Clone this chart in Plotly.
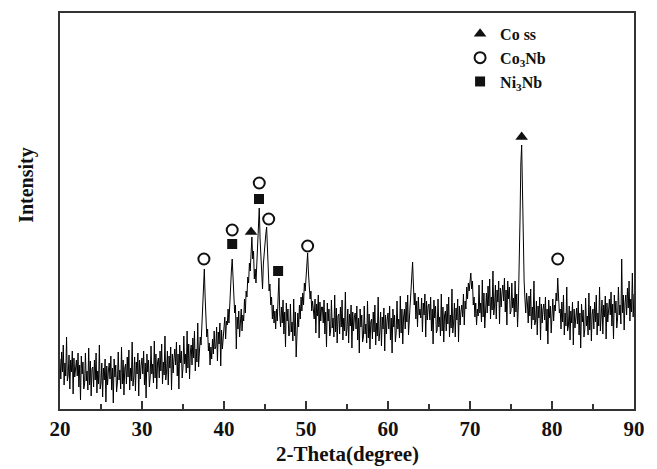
import numpy as np
import plotly.graph_objects as go

# XRD scan, 20-90 deg 2-theta, 0.1 deg step (intensity in arbitrary units)
two_theta_start = 20.0
two_theta_step = 0.1
intensity = [
    50, 30, 57, 37, 64, 24, 46, 33, 72, 28,        # 20
    34, 54, 20, 49, 37, 58, 15, 51, 32, 46,        # 21
    49, 33, 56, 22, 44, 9, 53, 35, 47, 20,         # 22
    25, 56, 28, 38, 19, 61, 24, 48, 13, 40,        # 23
    42, 22, 49, 29, 56, 16, 38, 25, 64, 20,        # 24
    26, 46, 12, 41, 29, 50, 7, 43, 24, 38,         # 25
    46, 30, 53, 19, 41, 6, 50, 32, 44, 17,         # 26
    26, 57, 29, 39, 20, 62, 25, 49, 14, 41,        # 27
    45, 25, 52, 32, 59, 19, 41, 28, 67, 23,        # 28
    32, 52, 18, 47, 35, 56, 13, 49, 30, 44,        # 29
    51, 35, 58, 24, 46, 11, 55, 37, 49, 22,        # 30
    32, 63, 35, 45, 26, 68, 31, 55, 20, 47,        # 31
    51, 31, 58, 38, 65, 25, 47, 34, 73, 29,        # 32
    38, 58, 24, 53, 41, 62, 19, 55, 36, 50,        # 33
    60, 44, 67, 33, 55, 20, 64, 46, 58, 31,        # 34
    42, 73, 45, 55, 36, 78, 41, 65, 30, 57,        # 35
    64, 44, 71, 51, 78, 38, 60, 47, 86, 42,        # 36
    60, 72, 64, 85, 98, 118, 140, 112, 95, 72,     # 37
    80, 58, 66, 44, 62, 50, 70, 55, 78, 60,        # 38
    62, 82, 48, 77, 65, 86, 43, 79, 60, 74,        # 39
    78, 92, 70, 88, 84, 100, 86, 110, 122, 138,    # 40
    150, 128, 112, 96, 104, 60, 92, 80, 98, 72,    # 41
    86, 100, 78, 94, 88, 110, 96, 118, 112, 132,   # 42
    126, 146, 138, 160, 172, 150, 158, 130, 140, 126,  # 43
    150, 165, 180, 201, 170, 150, 135, 120, 145, 158,  # 44
    168, 175, 182, 160, 140, 118, 125, 104, 112, 90,   # 45
    104, 86, 98, 80, 100, 88, 112, 131, 95, 82,    # 46
    102, 86, 109, 75, 97, 62, 106, 88, 100, 73,    # 47
    74, 105, 77, 87, 68, 110, 73, 97, 52, 89,      # 48
    96, 82, 104, 90, 112, 98, 116, 104, 126, 118,  # 49
    132, 142, 156, 136, 124, 110, 118, 98, 108, 92,  # 50
    90, 110, 76, 105, 93, 114, 71, 107, 88, 102,   # 51
    102, 86, 109, 75, 97, 62, 106, 88, 100, 73,    # 52
    78, 109, 81, 91, 72, 114, 77, 101, 66, 93,     # 53
    95, 75, 102, 82, 109, 69, 91, 78, 117, 73,     # 54
    80, 100, 66, 95, 83, 104, 61, 97, 78, 92,      # 55
    96, 80, 103, 69, 91, 56, 100, 82, 94, 67,      # 56
    72, 103, 75, 85, 66, 108, 71, 95, 60, 87,      # 57
    90, 70, 97, 77, 104, 64, 86, 73, 112, 68,      # 58
    77, 97, 63, 92, 80, 101, 58, 94, 75, 89,       # 59
    96, 80, 103, 69, 91, 56, 100, 82, 94, 67,      # 60
    77, 108, 80, 90, 71, 113, 76, 100, 65, 92,     # 61
    100, 80, 107, 87, 114, 74, 96, 104, 118, 130,  # 62
    147, 124, 104, 116, 90, 108, 82, 112, 94, 100, # 63
    91, 111, 77, 106, 94, 115, 72, 108, 89, 103,   # 64
    105, 89, 112, 78, 100, 65, 109, 91, 103, 76,   # 65
    79, 110, 82, 92, 73, 115, 78, 102, 67, 94,     # 66
    98, 78, 105, 85, 112, 72, 94, 81, 120, 76,     # 67
    86, 106, 72, 101, 89, 110, 67, 103, 84, 98,    # 68
    104, 92, 115, 84, 108, 100, 122, 110, 126, 118,  # 69
    130, 136, 120, 128, 104, 112, 92, 106, 84, 100,  # 70
    93, 124, 96, 106, 87, 129, 92, 116, 81, 108,   # 71
    116, 96, 123, 103, 130, 90, 112, 99, 138, 94,  # 72
    104, 124, 90, 119, 107, 128, 85, 121, 102, 116,  # 73
    124, 108, 131, 97, 119, 84, 128, 110, 122, 95,   # 74
    98, 126, 101, 111, 92, 128, 97, 115, 82, 104,    # 75
    140, 190, 245, 264, 220, 160, 128, 110, 96, 116, # 76
    106, 86, 113, 93, 120, 80, 102, 89, 128, 84,   # 77
    88, 108, 74, 103, 91, 112, 69, 105, 86, 100,   # 78
    105, 89, 112, 78, 100, 65, 109, 91, 103, 76,   # 79
    94, 110, 88, 104, 98, 116, 108, 131, 112, 96,  # 80
    100, 80, 107, 87, 114, 74, 96, 83, 122, 78,    # 81
    83, 103, 69, 98, 86, 107, 64, 100, 81, 95,     # 82
    101, 85, 108, 74, 96, 61, 105, 87, 99, 72,     # 83
    80, 111, 83, 93, 74, 116, 79, 103, 68, 95,     # 84
    100, 80, 107, 87, 114, 74, 96, 83, 122, 78,    # 85
    89, 109, 75, 104, 92, 113, 70, 106, 87, 101,   # 86
    110, 94, 117, 83, 105, 70, 114, 96, 108, 81,   # 87
    91, 122, 94, 104, 85, 150, 96, 114, 79, 106,   # 88
    114, 94, 121, 101, 128, 88, 110, 97, 136, 92,  # 89
    115,                                           # 90
]
two_theta = two_theta_start + two_theta_step * np.arange(len(intensity))

# Phase identification marks (position, marker height)
co_ss_x = [43.3, 76.3]
co_ss_y = [177, 272]
co3nb_x = [37.55, 41.0, 44.3, 45.45, 50.2, 80.7]
co3nb_y = [150, 179, 226, 190, 163, 150]
ni3nb_x = [41.0, 44.27, 46.6]
ni3nb_y = [165, 210, 138]

x_ticks = [20, 30, 40, 50, 60, 70, 80, 90]

SERIF = "Liberation Serif, Times New Roman, serif"
INK = "#111111"

fig = go.Figure()
fig.add_trace(go.Scatter(
    x=two_theta, y=intensity, mode="lines",
    line=dict(color="#000000", width=1.0),
    showlegend=False, hoverinfo="skip",
))
fig.add_trace(go.Scatter(
    x=co_ss_x, y=co_ss_y, mode="markers", name="<b>Co ss</b>",
    marker=dict(symbol="triangle-up", size=11, color=INK),
))
fig.add_trace(go.Scatter(
    x=co3nb_x, y=co3nb_y, mode="markers", name="<b>Co<sub>3</sub>Nb</b>",
    marker=dict(symbol="circle-open", size=11, color=INK, line=dict(width=2, color=INK)),
))
fig.add_trace(go.Scatter(
    x=ni3nb_x, y=ni3nb_y, mode="markers", name="<b>Ni<sub>3</sub>Nb</b>",
    marker=dict(symbol="square", size=10, color=INK),
))

fig.update_layout(
    width=657, height=469,
    margin=dict(l=60, r=23, t=13, b=60, autoexpand=False),
    paper_bgcolor="white", plot_bgcolor="white",
    font=dict(family=SERIF, color=INK),
    legend=dict(
        x=0.697, y=0.99, xanchor="left", yanchor="top",
        bgcolor="rgba(0,0,0,0)", borderwidth=0,
        font=dict(family=SERIF, size=16, color=INK),
        itemwidth=30, tracegroupgap=0,
    ),
    annotations=[
        dict(
            text="<b>Intensity</b>", textangle=-90,
            xref="paper", yref="paper", x=-0.0575, y=0.566,
            xanchor="center", yanchor="middle", showarrow=False,
            font=dict(family=SERIF, size=20, color=INK),
        ),
        dict(
            text="<b>2-Theta(degree)</b>",
            xref="paper", yref="paper", x=0.5, y=-0.114,
            xanchor="center", yanchor="middle", showarrow=False,
            font=dict(family=SERIF, size=21, color=INK),
        ),
    ],
)
fig.update_xaxes(
    range=[20, 90], tickvals=x_ticks, ticktext=[f"<b>{t}</b>" for t in x_ticks],
    ticks="inside", ticklen=8, tickwidth=1.5, tickcolor="#333",
    minor=dict(ticks="inside", ticklen=5, tickwidth=1.5, dtick=5, tickcolor="#333"),
    showline=True, linecolor="#333", linewidth=1.5, mirror=True,
    showgrid=False, zeroline=False, automargin=False,
    tickfont=dict(family=SERIF, size=21, color=INK),
)
fig.update_yaxes(
    range=[0, 396], showticklabels=False, ticks="",
    showline=True, linecolor="#333", linewidth=1.5, mirror=True,
    showgrid=False, zeroline=False, automargin=False,
)

fig.write_html("out.html")
